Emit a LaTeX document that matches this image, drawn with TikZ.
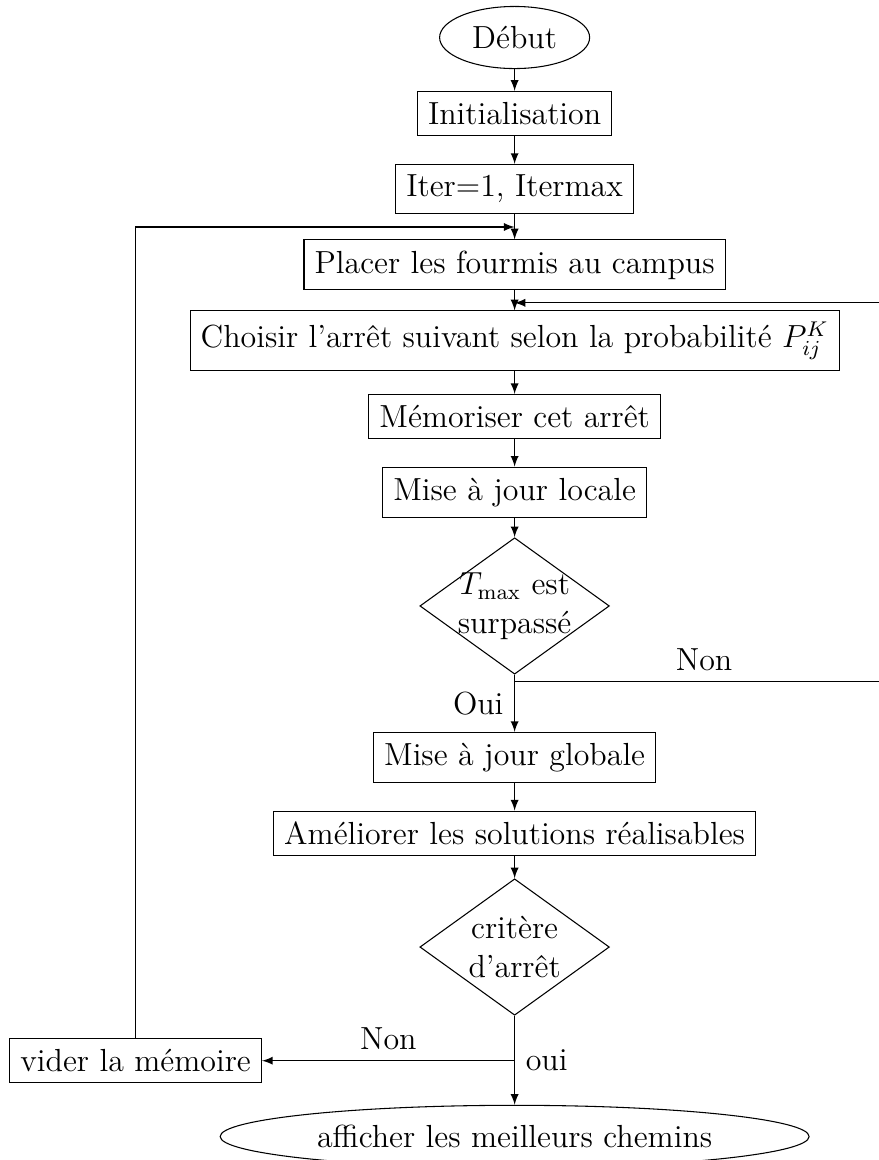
\documentclass[tikz,border=0pt,12pt]{standalone}
\usepackage{amsmath}
\usepackage{tikz}
\usetikzlibrary{arrows,shapes,positioning}

\begin{document}
\begin{tikzpicture}[node distance=1cm,>=latex]

  \tikzstyle{block}=[rectangle,draw=black]
  \tikzstyle{decision}=[diamond,draw=black,aspect=1.4,inner sep=-3pt,
                        minimum width=2.5cm,minimum height=1.8cm,align=center]
  \tikzstyle{terminal}=[ellipse,draw=black]

  \useasboundingbox (-6.79,0.495) rectangle (4.80,-14.81);

  %main column
  \node [terminal] (debut) {Début};
  \node [block] (init) [below of=debut] {Initialisation};
  \node [block] (iter) [below of=init] {Iter=1, Itermax};
  \node [block] (placer) [below of=iter] {Placer les fourmis au campus};
  \node [block] (choisir) [below of=placer] {Choisir l'arrêt suivant selon la probabilité $P_{ij}^K$};
  \node [block] (memo) [below of=choisir] {Mémoriser cet arrêt};
  \node [block] (locale) [below of=memo] {Mise à jour locale};
  \node [decision] (tmax) [below of=locale,node distance=1.5cm] {$T_{\max}$ est\\surpassé};
  \node [block] (globale) [below of=tmax,node distance=2cm] {Mise à jour globale};
  \node [block] (ameliorer) [below of=globale] {Améliorer les solutions réalisables};
  \node [decision] (arret) [below of=ameliorer,node distance=1.5cm] {critère\\d'arrêt};
  \node [terminal] (fin) [below of=arret,node distance=2.5cm] {afficher les meilleurs chemins};
  \node [block] (vider) at (-5,-13.5) {vider la mémoire};

  %points where the loops come back
  \coordinate (entree) at (0,-2.5);
  \coordinate (retour) at (0,-3.5);
  \coordinate (branche) at (0,-8.5);
  \coordinate (droite) at (5,-8.5);
  \coordinate (sortie) at (0,-13.5);

  \draw [->] (debut) -- (init);
  \draw [->] (init) -- (iter);
  \draw [->] (iter) -- (placer);
  \draw [->] (placer) -- (choisir);
  \draw [->] (choisir) -- (memo);
  \draw [->] (memo) -- (locale);
  \draw [->] (locale) -- (tmax);
  \draw [->] (tmax) -- node[left] {Oui} (globale);
  \draw [->] (globale) -- (ameliorer);
  \draw [->] (ameliorer) -- (arret);
  \draw [->] (arret) -- node[right] {oui} (fin);

  %loops
  \draw [->] (branche) -- node[above] {Non} (droite) |- (retour);
  \draw [->] (sortie) -- node[above] {Non} (vider);
  \draw [->] (vider) |- (entree);

\end{tikzpicture}
\end{document}
